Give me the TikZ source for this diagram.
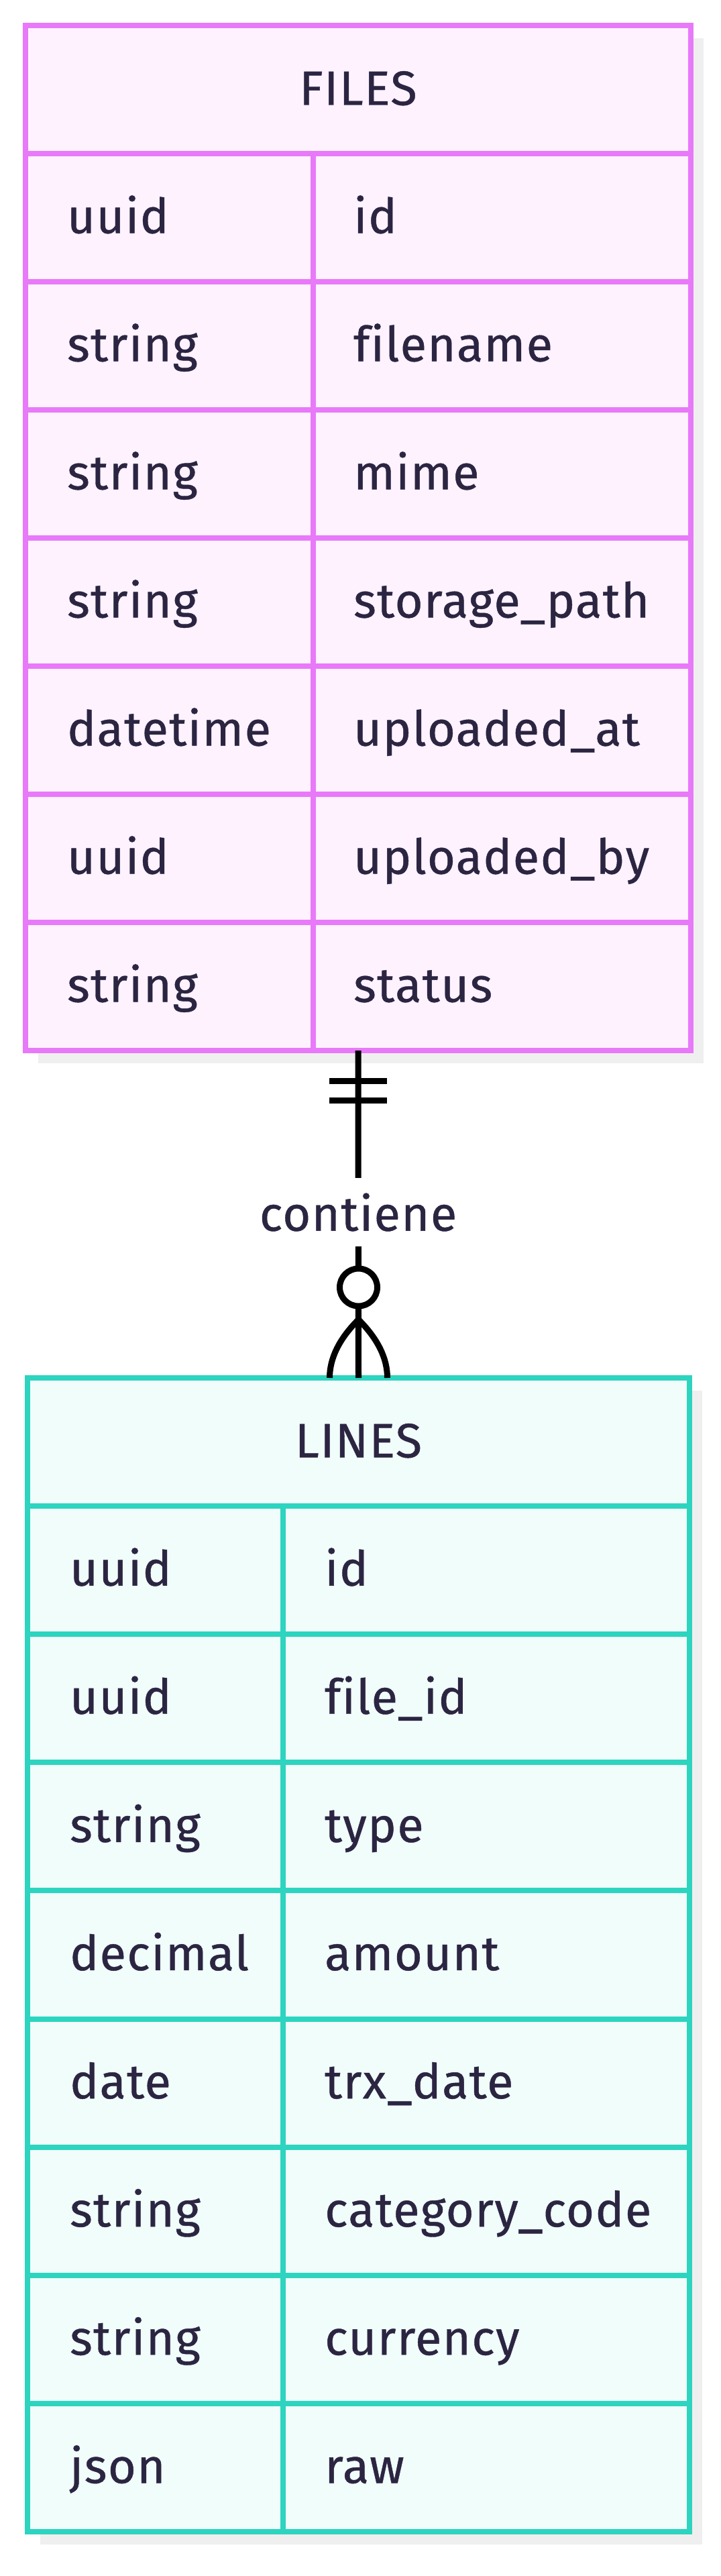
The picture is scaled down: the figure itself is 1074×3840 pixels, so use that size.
\documentclass[tikz,border=0pt]{standalone}
\usepackage{fontspec}
\setmainfont{Fira Sans}[Ligatures=NoCommon, FakeBold=0.6, LetterSpace=2]
\usetikzlibrary{calc}

\definecolor{filesline}{HTML}{E879F9}
\definecolor{filesfill}{HTML}{FDF2FE}
\definecolor{linesline}{HTML}{2DD4BF}
\definecolor{linesfill}{HTML}{F0FDFA}
\definecolor{erdtext}{HTML}{2B2542}
\definecolor{erdshadow}{HTML}{EFEFEF}

\tikzset{
    entity/.style={anchor=north west, inner sep=0pt, outer sep=0pt, line width=8pt},
    cell/.style={anchor=base west, inner sep=0pt, text=erdtext,
        font=\fontsize{72}{86}\selectfont},
    rel/.style={line width=9pt, black}
}

\begin{document}
\begin{tikzpicture}[x=1pt, y=-1pt]
    \useasboundingbox (0,0) rectangle (1074,3840);
    % Draw shadows
    \fill[erdshadow] (57,57) rectangle (1049,1585);
    \fill[erdshadow] (60,2073) rectangle (1047,3793);

    % Draw FILES entity
    \node[entity, draw=filesline, fill=filesfill,
        minimum width=992pt, minimum height=1528pt] (files) at (38,38) {};
    \foreach \r in {1,...,7}
        \draw[filesline, line width=8pt] (38,38+191*\r) -- (1030,38+191*\r);
    \draw[filesline, line width=8pt] (467,229) -- (467,1566);
    \node[cell, anchor=base] (filestitle) at (534,156.5) {FILES};
    \foreach \t/\n [count=\i] in {uuid/id, string/filename, string/mime,
        string/storage\_path, datetime/uploaded\_at, uuid/uploaded\_by,
        string/status} {
        \node[cell] (ftype\i) at (100,38+191*\i+118.5) {\t};
        \node[cell] (fname\i) at (527,38+191*\i+118.5) {\n};
    }

    % Draw LINES entity
    \node[entity, draw=linesline, fill=linesfill,
        minimum width=987pt, minimum height=1720pt] (lines) at (41,2054) {};
    \foreach \r in {1,...,8}
        \draw[linesline, line width=8pt] (41,2054+191.1*\r) -- (1028,2054+191.1*\r);
    \draw[linesline, line width=8pt] (422,2245) -- (422,3774);
    \node[cell, anchor=base] (linestitle) at (534.5,2172.5) {LINES};
    \foreach \t/\n [count=\i] in {uuid/id, uuid/file\_id, string/type,
        decimal/amount, date/trx\_date, string/category\_code,
        string/currency, json/raw} {
        \node[cell] (ltype\i) at (104,2054+191.1*\i+118.5) {\t};
        \node[cell] (lname\i) at (484,2054+191.1*\i+118.5) {\n};
    }

    % Draw relationship files ||--o{ lines
    \draw[rel] (files.south) -- (lines.north);
    \draw[rel] ($(files.south)+(-43,45)$) -- ($(files.south)+(43,45)$);
    \draw[rel] ($(files.south)+(-43,74)$) -- ($(files.south)+(43,74)$);
    \coordinate (foot) at ($(lines.north)+(0,-87)$);
    \draw[rel] (foot) .. controls ($(foot)+(-29,29)$) and ($(lines.north)+(-43,-29)$)
        .. ($(lines.north)+(-43,0)$);
    \draw[rel] (foot) .. controls ($(foot)+(29,29)$) and ($(lines.north)+(43,-29)$)
        .. ($(lines.north)+(43,0)$);
    \draw[rel, fill=white] ($(lines.north)+(0,-135)$) circle (28);
    \node[cell, anchor=center, fill=white, minimum height=102pt] (contiene)
        at ($(files.south)+(0,241)$) {contiene};
\end{tikzpicture}
\end{document}
